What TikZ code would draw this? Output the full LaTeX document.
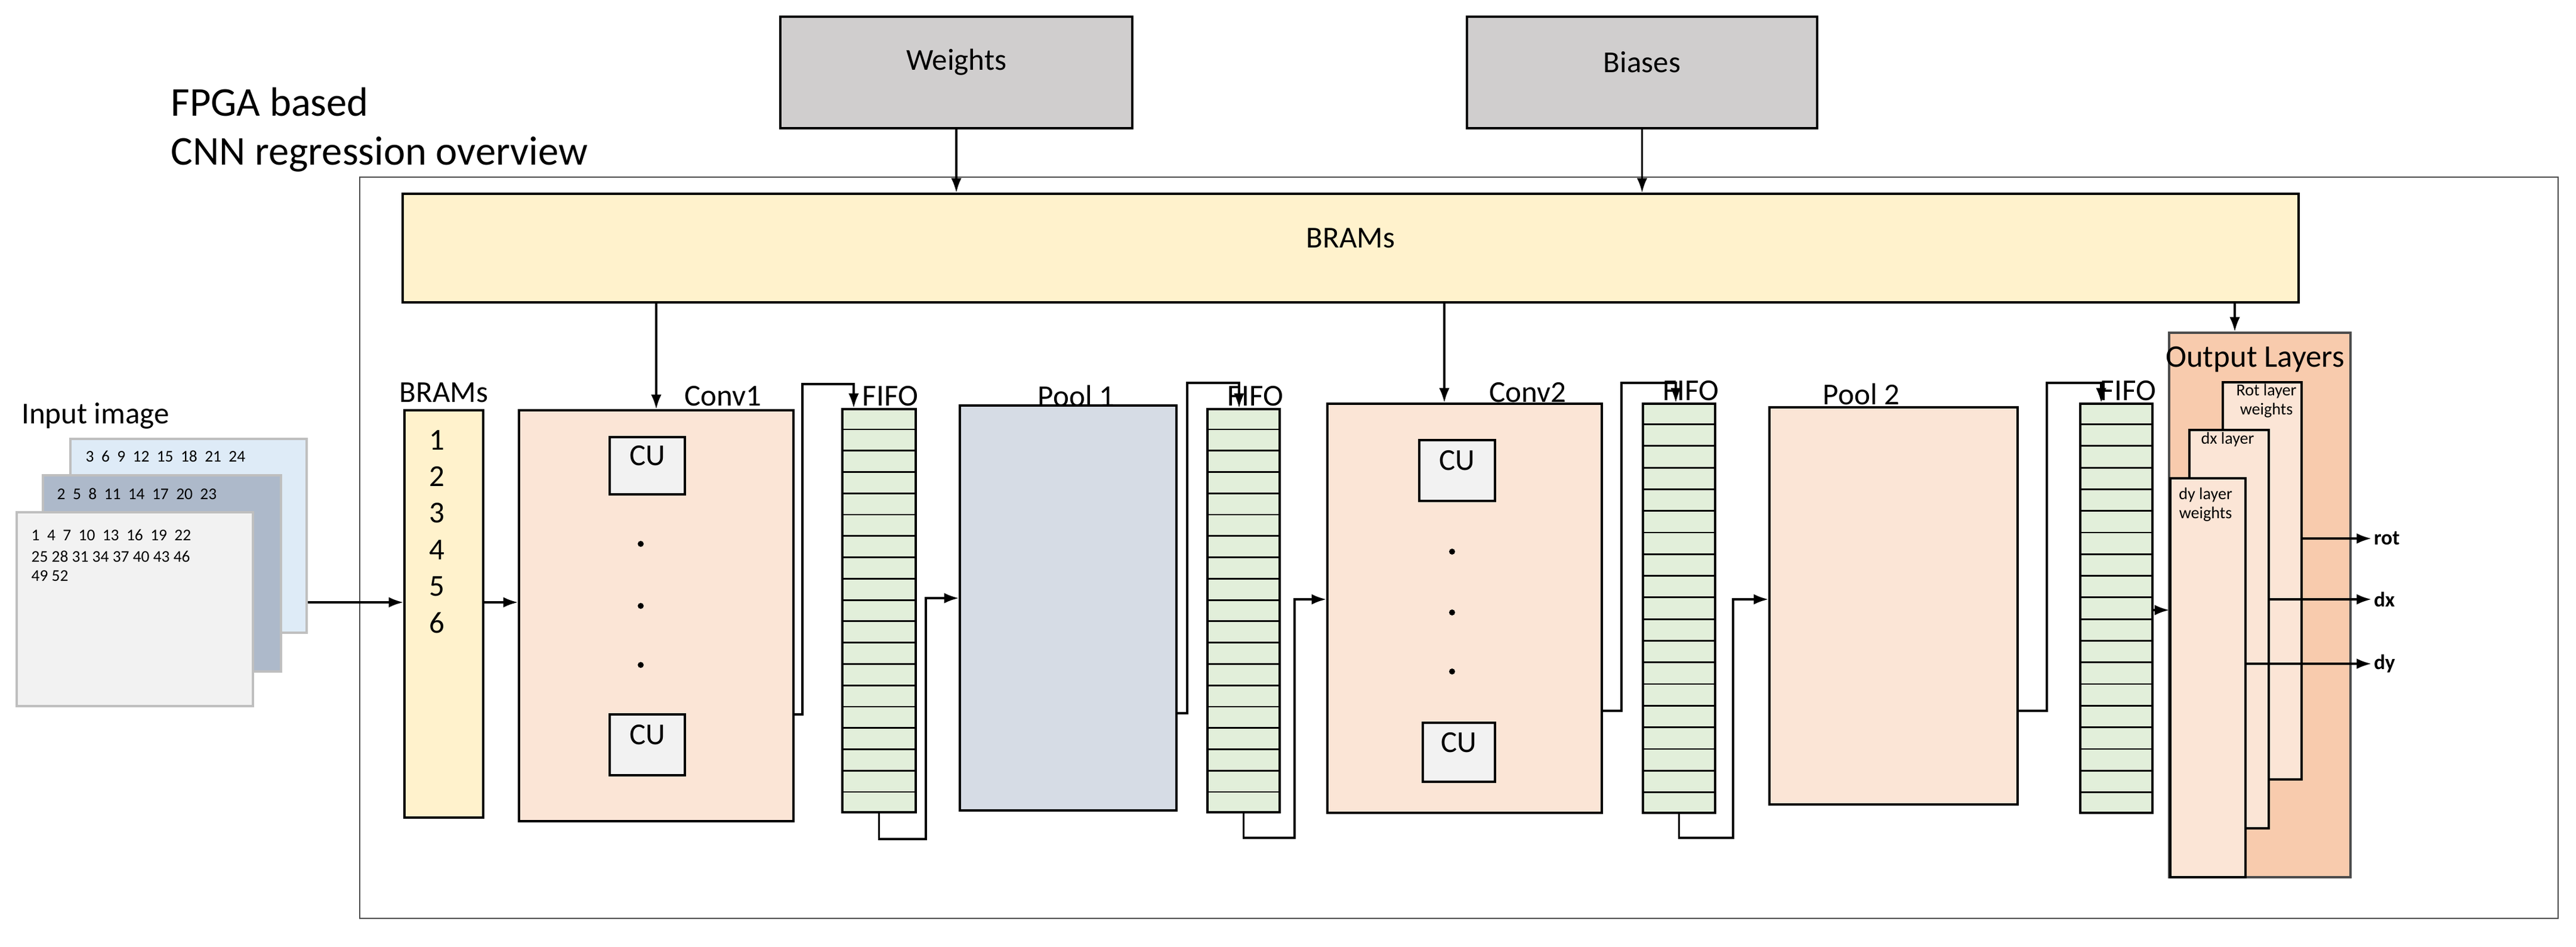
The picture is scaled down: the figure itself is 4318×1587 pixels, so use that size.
\documentclass[tikz,border=0pt]{standalone}
\usepackage{fontspec}
\setmainfont{Carlito}
\usetikzlibrary{positioning,fit,calc,arrows.meta}

\definecolor{wgrey}{HTML}{D0CECE}
\definecolor{bramy}{HTML}{FFF2CC}
\definecolor{convp}{HTML}{FBE5D6}
\definecolor{poolb}{HTML}{D6DCE5}
\definecolor{fifog}{HTML}{E2EFDA}
\definecolor{cug}{HTML}{F2F2F2}
\definecolor{outp}{HTML}{F8CBAD}
\definecolor{imgb}{HTML}{DEEBF7}
\definecolor{imgm}{HTML}{ADB9CA}
\definecolor{imgf}{HTML}{F2F2F2}

\tikzset{
  blk/.style={draw, line width=1pt, inner sep=0pt},
  sheet/.style={draw=black!25, line width=1pt, inner sep=0pt},
  wire/.style={draw, line width=1pt},
  arr/.style={wire, -{Latex[length=7pt,width=5pt]}},
  big/.style={font=\fontsize{14.5}{16}\selectfont},
  small/.style={font=\fontsize{7.8}{9}\selectfont, anchor=west, inner sep=0pt},
  tiny/.style={font=\fontsize{8}{9}\selectfont, inner sep=0pt},
  outlbl/.style={font=\fontsize{10}{12}\selectfont\bfseries, anchor=west, inner sep=1pt}
}

\begin{document}
\begin{tikzpicture}[x=0.01cm, y=-0.01cm]

    \useasboundingbox (0,0) rectangle (4318,1587);

    % title
    \node[anchor=west, inner sep=0pt, font=\fontsize{19.5}{22}\selectfont] (title1) at (286,171) {FPGA based};
    \node[anchor=west, inner sep=0pt, font=\fontsize{19.5}{22}\selectfont] (title2) at (286,259) {CNN regression overview};

    % external memories
    \node[blk, fill=wgrey, big, fit={(1308,28) (1898,215)}] (weights) {Weights};
    \node[blk, fill=wgrey, big, fit={(2459,28) (3046,215)}] (biases) {Biases};

    % FPGA frame
    \node[draw=black!70, line width=0.8pt, inner sep=0pt, fit={(603,297) (4288,1540)}] (fpga) {};
    \node[blk, fill=bramy, big, fit={(675,325) (3853,507)}] (brams) {BRAMs};

    % input image
    \node[sheet, fill=imgb, fit={(118,736) (514,1061)}] (img3) {};
    \node[sheet, fill=imgm, fit={(72,797) (471,1126)}] (img2) {};
    \node[sheet, fill=imgf, fit={(28,859) (424,1184)}] (img1) {};
    \node[big, inner sep=0pt] (inlbl) at (160,697) {Input image};
    \node[small] (row3) at (143,765) {3\ \ 6\ \ 9\ \ 12\ \ 15\ \ 18\ \ 21\ \ 24};
    \node[small] (row2) at (95,828) {2\ \ 5\ \ 8\ \ 11\ \ 14\ \ 17\ \ 20\ \ 23};
    \node[small] (row1a) at (52,897) {1\ \ 4\ \ 7\ \ 10\ \ 13\ \ 16\ \ 19\ \ 22};
    \node[small] (row1b) at (52,933) {25 28 31\ 34\ 37\ 40\ 43\ 46};
    \node[small] (row1c) at (52,966) {49\ 52};

    % input BRAMs
    \node[blk, fill=bramy, fit={(678,688) (810,1371)}] (bram0) {};
    \node[big, inner sep=0pt, above=3pt of bram0] (bram0lbl) {BRAMs};
    \foreach \i/\y in {1/738,2/799,3/860,4/922,5/983,6/1044}
        \node[big, inner sep=0pt] (bn\i) at (732,\y) {\i};

    % Conv1
    \node[blk, fill=convp, fit={(870,688) (1330,1377)}] (conv1) {};
    \node[big, inner sep=0pt] (conv1lbl) at (1212,664) {Conv1};
    \node[blk, fill=cug, big, fit={(1022,733) (1148,829)}] (cu1a) {CU};
    \node[blk, fill=cug, big, fit={(1022,1198) (1148,1300)}] (cu1b) {CU};
    \foreach \y in {912,1016,1115}
        \fill (1074,\y) circle (5);

    % Pool 1
    \node[blk, fill=poolb, fit={(1609,680) (1972,1359)}] (pool1) {};
    \node[big, inner sep=0pt] (pool1lbl) at (1804,664) {Pool 1};

    % Conv2
    \node[blk, fill=convp, fit={(2225,677) (2685,1363)}] (conv2) {};
    \node[big, inner sep=0pt] (conv2lbl) at (2561,658) {Conv2};
    \node[blk, fill=cug, big, fit={(2379,738) (2506,840)}] (cu2a) {CU};
    \node[blk, fill=cug, big, fit={(2385,1212) (2506,1311)}] (cu2b) {CU};
    \foreach \y in {925,1027,1126}
        \fill (2434,\y) circle (5);

    % Pool 2
    \node[blk, fill=convp, fit={(2966,683) (3382,1349)}] (pool2) {};
    \node[big, inner sep=0pt] (pool2lbl) at (3120,661) {Pool 2};

    % FIFOs
    \node[blk, fill=fifog, fit={(1412,686) (1535,1362)}] (fifo1) {};
    \node[blk, fill=fifog, fit={(2024,686) (2145,1362)}] (fifo2) {};
    \node[blk, fill=fifog, fit={(2754,677) (2875,1363)}] (fifo3) {};
    \node[blk, fill=fifog, fit={(3487,677) (3608,1363)}] (fifo4) {};
    \foreach \f in {fifo1,fifo2,fifo3,fifo4} {
        \node[big, inner sep=0pt, anchor=south west] at ($(\f.north west)+(35,-3)$) {FIFO};
        \foreach \i in {1,...,18}
            \draw[line width=0.8pt] ($(\f.north west)!\i/19!(\f.south west)$) -- ($(\f.north east)!\i/19!(\f.south east)$);
    }

    % Output layers
    \node[draw=black!70, line width=1pt, fill=outp, inner sep=0pt, fit={(3636,558) (3940,1471)}] (outl) {};
    \node[inner sep=0pt, font=\fontsize{15}{17}\selectfont] (outlbl) at (3780,603) {Output Layers};
    \node[blk, fill=convp, fit={(3726,641) (3858,1307)}] (rotl) {};
    \node[blk, fill=convp, fit={(3670,721) (3803,1389)}] (dxl) {};
    \node[blk, fill=convp, fit={(3638,802) (3764,1471)}] (dyl) {};
    \node[tiny, align=center] (rottxt) at (3799,672) {Rot layer\\weights};
    \node[tiny] (dxtxt) at (3734,737) {dx layer};
    \node[tiny, align=center] (dytxt) at (3697,846) {dy layer\\weights};
    \node[outlbl] (rot) at (3975,903) {rot};
    \node[outlbl] (dx) at (3975,1005) {dx};
    \node[outlbl] (dy) at (3975,1113) {dy};

    % wire bends
    \coordinate (inl) at (0,1010);
    \coordinate (fb1a) at (1345,1198);
    \coordinate (fb1b) at (1431,644);
    \coordinate (fb2a) at (1990,1196);
    \coordinate (fb2b) at (2077,642);
    \coordinate (fb3a) at (2718,1192);
    \coordinate (fb3b) at (2809,642);
    \coordinate (fb4a) at (3431,1192);
    \coordinate (fb4b) at (3522,642);
    \coordinate (bw1a) at (1552,1407);
    \coordinate (bw1b) at (1552,1003);
    \coordinate (bw2a) at (2170,1405);
    \coordinate (bw2b) at (2170,1005);
    \coordinate (bw3a) at (2905,1405);
    \coordinate (bw3b) at (2905,1005);
    \coordinate (outin) at (0,1023);

    % connections
    \draw[arr] (weights.south) -- (weights.south |- brams.north);
    \draw[arr] (biases.south) -- (biases.south |- brams.north);
    \draw[arr] (brams.south -| conv1.north) -- (conv1.north);
    \draw[arr] (brams.south -| 2421,0) -- (2421,0 |- conv2.north);
    \draw[arr] (brams.south -| 3746,0) -- (3746,0 |- outl.north);
    \draw[arr] (img3.east |- inl) -- (bram0.west |- inl);
    \draw[arr] (bram0.east |- inl) -- (conv1.west |- inl);

    \draw[arr] (conv1.east |- fb1a) -- (fb1a) |- (fb1b) -- (fb1b |- fifo1.north);
    \draw[arr] (fifo1.south) |- (bw1a) -- (bw1b) -- (bw1b -| pool1.west);
    \draw[arr] (pool1.east |- fb2a) -- (fb2a) |- (fb2b) -- (fb2b |- fifo2.north);
    \draw[arr] (fifo2.south) |- (bw2a) -- (bw2b) -- (bw2b -| conv2.west);
    \draw[arr] (conv2.east |- fb3a) -- (fb3a) |- (fb3b) -- (fb3b |- fifo3.north);
    \draw[arr] (fifo3.south) |- (bw3a) -- (bw3b) -- (bw3b -| pool2.west);
    \draw[arr] (pool2.east |- fb4a) -- (fb4a) |- (fb4b) -- (fb4b |- fifo4.north);
    \draw[arr] (fifo4.east |- outin) -- (dyl.west |- outin);

    \draw[arr] (rotl.east |- rot) -- (rot.west);
    \draw[arr] (dxl.east |- dx) -- (dx.west);
    \draw[arr] (dyl.east |- dy) -- (dy.west);

\end{tikzpicture}
\end{document}
